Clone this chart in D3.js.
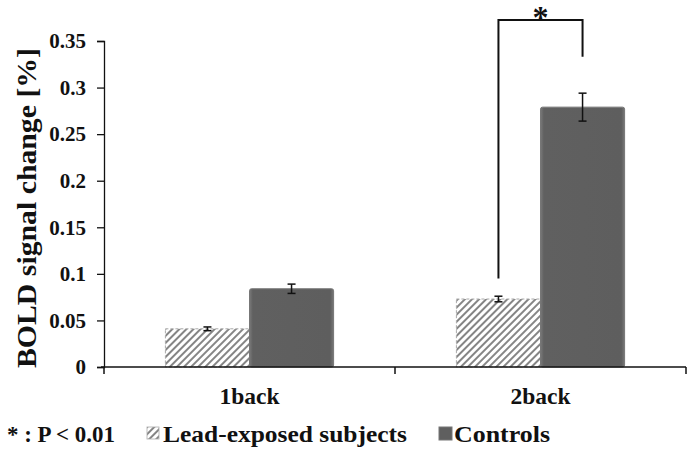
<!DOCTYPE html>
<html>
<head>
<meta charset="utf-8">
<script src="https://cdn.jsdelivr.net/npm/d3@7"></script>
<style>
    body { margin: 0; background: #fff; }
</style>
</head>
<body>
<svg id="chart" width="688" height="451"></svg>
<script>
const categories = ['1back', '2back'];
const groups = ['Lead-exposed subjects', 'Controls'];
const leadValues = [0.041, 0.073];
const leadErrors = [0.002, 0.003];
const controlValues = [0.084, 0.279];
const controlErrors = [0.005, 0.015];
const yTicks = [0, 0.05, 0.1, 0.15, 0.2, 0.25, 0.3, 0.35];
// significance bracket, in data units: left end, top, right end
const bracket = { category: '2back', leftY: 0.095, topY: 0.3725, rightY: 0.333 };

const FONT = '"Liberation Serif", "Times New Roman", Tinos, "DejaVu Serif", serif';
const margin = { left: 104, right: 2, top: 41, bottom: 85 };
const width = 688, height = 451;
const svg = d3.select('#chart');

const x = d3.scaleBand().domain(categories).range([margin.left, width - margin.right]);
const xInner = d3.scaleBand().domain(groups).range([0, x.bandwidth()]).paddingOuter(0.73).paddingInner(0);
const y = d3.scaleLinear().domain([0, 0.35]).range([height - margin.bottom + 1, margin.top]);

const label = (sel, size, len) => {
    sel.style('font-family', FONT)
        .style('font-weight', 'bold')
        .style('font-size', size + 'px')
        .attr('fill', '#111');
    if (len) sel.attr('textLength', len).attr('lengthAdjust', 'spacingAndGlyphs');
    return sel;
};

// hatch pattern for lead-exposed group
const defs = svg.append('defs');
const pat = defs.append('pattern')
    .attr('id', 'hatch')
    .attr('patternUnits', 'userSpaceOnUse')
    .attr('width', 5).attr('height', 5)
    .attr('patternTransform', 'rotate(45)');
pat.append('rect').attr('width', 5).attr('height', 5).attr('fill', '#fff');
pat.append('rect').attr('width', 2).attr('height', 5).attr('fill', '#858585');

const grad = defs.append('linearGradient').attr('id', 'ctrl').attr('x1', 0).attr('x2', 1);
grad.append('stop').attr('offset', '0').attr('stop-color', '#7a7a7a');
grad.append('stop').attr('offset', '0.04').attr('stop-color', '#606060');
grad.append('stop').attr('offset', '0.96').attr('stop-color', '#5e5e5e');
grad.append('stop').attr('offset', '1').attr('stop-color', '#787878');

// Bars
const rows = categories.map((c, i) => ({
    cat: c,
    bars: [
        { g: groups[0], v: leadValues[i], e: leadErrors[i] },
        { g: groups[1], v: controlValues[i], e: controlErrors[i] },
    ],
}));

const barG = svg.selectAll('.cat').data(rows).enter().append('g')
    .attr('transform', d => `translate(${x(d.cat)},0)`);

barG.selectAll('rect').data(d => d.bars).enter().append('rect')
    .attr('x', d => xInner(d.g))
    .attr('y', d => y(d.v))
    .attr('width', xInner.bandwidth())
    .attr('height', d => y(0) - y(d.v))
    .attr('fill', d => d.g === groups[0] ? 'url(#hatch)' : 'url(#ctrl)')
    .attr('stroke', d => d.g === groups[0] ? '#aaa' : '#777')
    .attr('stroke-width', 1)
    .attr('stroke-dasharray', d => d.g === groups[0] ? '3,2' : null)
    .attr('rx', d => d.g === groups[0] ? 0 : 2);

// Error bars
const errG = barG.selectAll('.err').data(d => d.bars).enter().append('g')
    .attr('stroke', '#111').attr('stroke-width', 1.5);
errG.append('line')
    .attr('x1', d => xInner(d.g) + xInner.bandwidth() / 2)
    .attr('x2', d => xInner(d.g) + xInner.bandwidth() / 2)
    .attr('y1', d => y(d.v - d.e)).attr('y2', d => y(d.v + d.e));
[-1, 1].forEach(s => {
    errG.append('line')
        .attr('x1', d => xInner(d.g) + xInner.bandwidth() / 2 - 4)
        .attr('x2', d => xInner(d.g) + xInner.bandwidth() / 2 + 4)
        .attr('y1', d => y(d.v + s * d.e)).attr('y2', d => y(d.v + s * d.e));
});

// Y axis
const yAxis = d3.axisLeft(y).tickValues(yTicks).tickSize(7).tickPadding(11)
    .tickFormat(d => d === 0 ? '0' : String(+d.toFixed(2)));
svg.append('g')
    .attr('transform', `translate(${margin.left},0)`)
    .call(yAxis)
    .call(g => label(g.selectAll('text'), 21))
    .call(g => g.selectAll('path, line').attr('stroke', '#111').attr('stroke-width', 1.3));

// X axis
const xAxisY = y(0);
const xTickPos = [margin.left, margin.left + x.bandwidth(), width - margin.right];
svg.append('line')
    .attr('x1', margin.left - 3).attr('x2', width - margin.right)
    .attr('y1', xAxisY).attr('y2', xAxisY)
    .attr('stroke', '#111').attr('stroke-width', 1.5);
svg.selectAll('.xtick').data(xTickPos).enter().append('line')
    .attr('x1', d => d).attr('x2', d => d)
    .attr('y1', xAxisY).attr('y2', xAxisY + 7)
    .attr('stroke', '#111').attr('stroke-width', 1.5);
svg.selectAll('.xlab').data(categories).enter().append('text')
    .attr('x', d => x(d) + x.bandwidth() / 2)
    .attr('y', 404)
    .attr('text-anchor', 'middle')
    .text(d => d)
    .call(s => label(s, 23, 60));

// Y axis label
svg.append('text')
    .attr('transform', `translate(36,${(y(0) + y(0.35)) / 2 + 4}) rotate(-90)`)
    .attr('text-anchor', 'middle')
    .text('BOLD signal change [%]')
    .call(s => label(s, 28, 320));

// Significance bracket
const bx = x(bracket.category);
const bLeft = bx + xInner(groups[0]) + xInner.bandwidth() / 2;
const bRight = bx + xInner(groups[1]) + xInner.bandwidth() / 2;
svg.append('path')
    .attr('d', `M${bLeft},${y(bracket.leftY)} V${y(bracket.topY)} H${bRight} V${y(bracket.rightY)}`)
    .attr('fill', 'none').attr('stroke', '#111').attr('stroke-width', 2);
svg.append('text')
    .attr('x', (bLeft + bRight) / 2).attr('y', y(bracket.topY) + 8)
    .attr('text-anchor', 'middle')
    .text('*')
    .call(s => label(s, 32));

// Legend
const legY = 442;
svg.append('text').attr('x', 7).attr('y', legY).text('* : P < 0.01').call(s => label(s, 23, 108));
svg.append('rect').attr('x', 147).attr('y', legY - 15).attr('width', 12).attr('height', 12)
    .attr('fill', 'url(#hatch)').attr('stroke', '#aaa').attr('stroke-width', 0.8);
svg.append('text').attr('x', 163).attr('y', legY).text(groups[0]).call(s => label(s, 23, 244));
svg.append('rect').attr('x', 439).attr('y', legY - 15).attr('width', 13).attr('height', 13)
    .attr('fill', '#5f5f5f').attr('stroke', '#777');
svg.append('text').attr('x', 454).attr('y', legY).text(groups[1]).call(s => label(s, 23, 96));
</script>
</body>
</html>
